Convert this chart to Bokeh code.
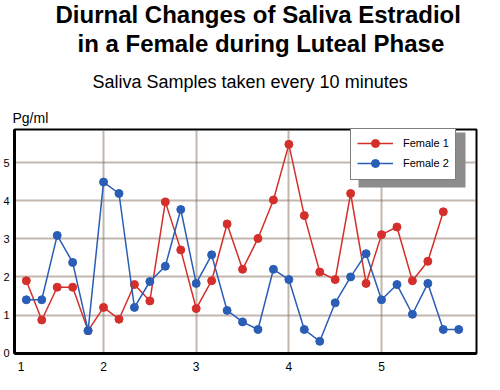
from bokeh.plotting import figure
from bokeh.models import (Title, Legend, LegendItem, FixedTicker, Range1d,
                          BoxAnnotation, ColumnDataSource)
from bokeh.embed import file_html
from bokeh.resources import INLINE

# ---- data ----
female1_samples = list(range(1, 29))
female1_values = [1.90, 0.87, 1.73, 1.73, 0.59, 1.20, 0.89, 1.80, 1.37, 3.97,
                  2.71, 1.17, 1.90, 3.39, 2.20, 3.01, 4.02, 5.48, 3.61, 2.13,
                  1.93, 4.19, 1.83, 3.11, 3.31, 1.90, 2.41, 3.71]
female2_samples = list(range(1, 30))
female2_values = [1.40, 1.40, 3.09, 2.38, 0.59, 4.49, 4.19, 1.20, 1.88, 2.28,
                  3.77, 1.83, 2.58, 1.12, 0.82, 0.62, 2.20, 1.93, 0.62, 0.31,
                  1.32, 2.00, 2.61, 1.40, 1.80, 1.02, 1.83, 0.62, 0.62]
samples_per_unit = 6  # one sample every 10 minutes
x_tick_positions = [1.11, 2, 3, 4, 5]
x_tick_labels = ["1", "2", "3", "4", "5"]
y_ticks = [0, 1, 2, 3, 4, 5]

FONT = "Liberation Sans"
RED = "#d42f2a"
BLUE = "#2a5db5"

def to_x(samples):
    return [1 + s / samples_per_unit for s in samples]

src1 = ColumnDataSource(dict(x=to_x(female1_samples), y=female1_values))
src2 = ColumnDataSource(dict(x=to_x(female2_samples), y=female2_values))

p = figure(width=484, height=374, output_backend="svg", toolbar_location=None,
           title="Diurnal Changes of Saliva Estradiol",
           x_range=Range1d(1.039, 6.025), y_range=Range1d(-0.01, 5.87),
           min_border_left=10, min_border_right=8, min_border_bottom=21,
           min_border_top=0)

p.title.text_font = FONT
p.title.text_font_size = "24px"
p.title.text_font_style = "bold"
p.title.text_color = "black"
p.title.align = "left"
p.title.offset = 41
p.title.standoff = -3

# added from the plot outward
p.add_layout(Title(text="Pg/ml", text_font=FONT, text_color="black",
                   text_font_size="14px", text_font_style="normal",
                   align="left", offset=-2, standoff=8), "above")
p.add_layout(Title(text="Saliva Samples taken every 10 minutes", text_font=FONT,
                   text_color="black",
                   text_font_size="18px", text_font_style="normal",
                   align="left", offset=78, standoff=23), "above")
p.add_layout(Title(text="in a Female during Luteal Phase", text_font=FONT,
                   text_color="black",
                   text_font_size="24px", text_font_style="bold",
                   align="left", offset=63, standoff=3), "above")

# grid
p.xgrid.ticker = FixedTicker(ticks=[2, 3, 4, 5])
p.ygrid.ticker = FixedTicker(ticks=[1, 2, 3, 4, 5])
for g in (p.xgrid, p.ygrid):
    g.grid_line_color = "#85705f"
    g.grid_line_dash = "1 1"
    g.grid_line_width = 2

# axes
p.xaxis.ticker = FixedTicker(ticks=x_tick_positions)
p.xaxis.major_label_overrides = {pos: lab for pos, lab in zip(x_tick_positions, x_tick_labels)}
p.yaxis.ticker = FixedTicker(ticks=y_ticks)
for ax in (p.xaxis, p.yaxis):
    ax.axis_line_color = "black"
    ax.axis_line_width = 3
    ax.major_tick_line_color = None
    ax.minor_tick_line_color = None
    ax.major_tick_out = 0
    ax.major_tick_in = 0
    ax.major_label_text_font = FONT
    ax.major_label_text_color = "black"
p.xaxis.major_label_text_font_size = "12px"
p.xaxis.major_label_standoff = 8
p.yaxis.major_label_text_font_size = "11px"
p.yaxis.major_label_standoff = 5

p.outline_line_color = "black"
p.outline_line_width = 2
p.outline_line_alpha = 1

# series
l1 = p.line("x", "y", source=src1, color=RED, line_width=1.5)
s1 = p.scatter("x", "y", source=src1, color=RED, size=8)
l2 = p.line("x", "y", source=src2, color=BLUE, line_width=1.5)
s2 = p.scatter("x", "y", source=src2, color=BLUE, size=8)

# legend shadow + legend
shadow = BoxAnnotation(left=344, right=451, bottom=166, top=221,
                       left_units="screen", right_units="screen",
                       bottom_units="screen", top_units="screen",
                       fill_color="#8c8c8c", fill_alpha=1, line_color=None)
p.add_layout(shadow)

legend = Legend(items=[LegendItem(label="Female 1", renderers=[l1, s1]),
                       LegendItem(label="Female 2", renderers=[l2, s2])],
                location=(336, 173), margin=0, padding=6, spacing=0,
                glyph_width=36, glyph_height=20, label_height=20,
                label_standoff=10, label_text_font=FONT,
                label_text_color="black",
                label_text_font_size="11px", border_line_color="black",
                border_line_width=1.5, background_fill_color="white",
                background_fill_alpha=1)
p.add_layout(legend)

open("out.html", "w").write(file_html(p, INLINE))
